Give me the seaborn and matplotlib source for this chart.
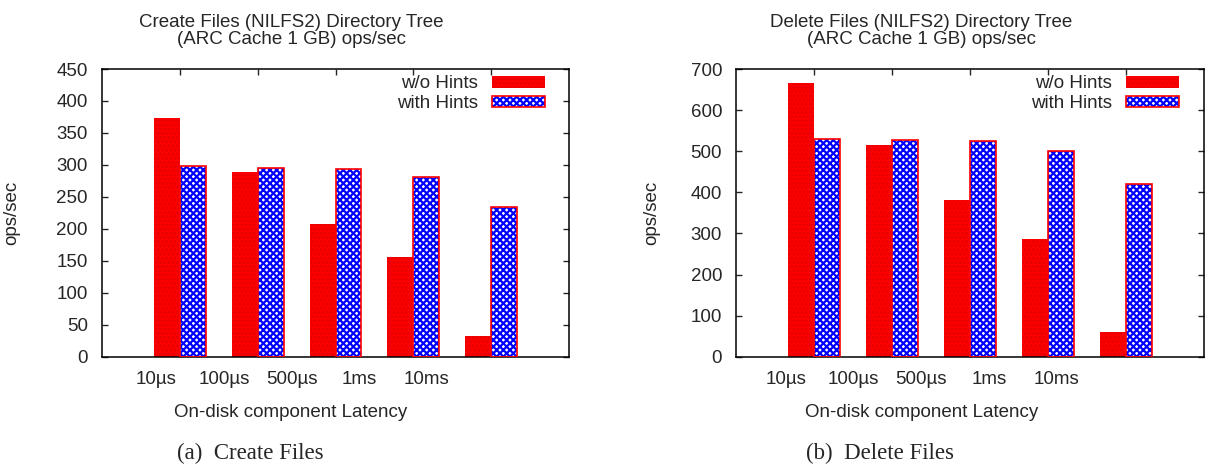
import matplotlib
matplotlib.use("Agg")
import matplotlib.pyplot as plt
from matplotlib.patches import Patch, Rectangle
from matplotlib.legend_handler import HandlerTuple
import numpy as np
import pandas as pd
import seaborn as sns

# ---- data -------------------------------------------------------------
latency = ["10µs", "100µs", "500µs", "1ms", "10ms"]
series = ["w/o Hints", "with Hints"]

create_without = [373, 289, 208, 156, 32]
create_with = [298, 295, 293, 281, 234]

delete_without = [666, 516, 381, 286, 60]
delete_with = [529, 527, 524, 500, 421]

panels = [
    dict(title="Create Files (NILFS2) Directory Tree\n(ARC Cache 1 GB) ops/sec",
         caption="(a)  Create Files", without=create_without, with_=create_with,
         ymax=450, ystep=50),
    dict(title="Delete Files (NILFS2) Directory Tree\n(ARC Cache 1 GB) ops/sec",
         caption="(b)  Delete Files", without=delete_without, with_=delete_with,
         ymax=700, ystep=100),
]

# ---- style ------------------------------------------------------------
sns.set_style("ticks")
plt.rcParams["font.family"] = ["Liberation Sans", "DejaVu Sans"]
plt.rcParams["hatch.linewidth"] = 1.6
FS = 13.5
RED = "#ff0000"
BLUE = "#0000ff"
CHECK = "xxxxx"

fig = plt.figure(figsize=(12.06, 4.69), dpi=100)
W, H = 1206, 469
ax_w, ax_h = 467.6, 287.7
ax_lefts = [101.7, 736.0]
ax_bottom = H - 356.7

# layout of the (slightly condensed) text elements, in axes fractions / data units
label_start = [-0.30, -0.36]
label_step = 0.868
title_x = [0.405, 0.396]
ylabel_x = [-0.175, -0.1625]
caption_x = [250 / W, 880 / W]

for k, p in enumerate(panels):
    ax = fig.add_axes([ax_lefts[k] / W, ax_bottom / H, ax_w / W, ax_h / H])
    df = pd.DataFrame({
        "latency": latency * 2,
        "series": [series[0]] * len(latency) + [series[1]] * len(latency),
        "ops": list(p["without"]) + list(p["with_"]),
    })
    sns.barplot(data=df, x="latency", y="ops", hue="series", order=latency,
                hue_order=series, palette={series[0]: RED, series[1]: "white"},
                width=0.667, gap=0, saturation=1, legend=False, ax=ax,
                edgecolor="none", linewidth=0, errorbar=None)

    # textures: fine dots on the red bars, blue checks with a red outline on the others
    for bar in ax.containers[0]:
        bar.set_hatch("....")
        bar.set_edgecolor("#e40000")
        bar.set_linewidth(0)
    for bar in ax.containers[1]:
        bar.set_hatch(CHECK)
        bar.set_edgecolor(BLUE)
        bar.set_linewidth(0)
        ax.add_patch(Rectangle(bar.get_xy(), bar.get_width(), bar.get_height(),
                               fill=False, edgecolor=RED, linewidth=1.2, zorder=3))

    ax.set_xlim(-1, 5)
    ax.set_ylim(0, p["ymax"])
    ax.set_yticks(np.arange(0, p["ymax"] + 1, p["ystep"]))

    # tick marks on the categories, labels set slightly condensed
    ax.set_xticks(range(len(latency)), labels=[""] * len(latency))
    ax.set_xticks([label_start[k] + label_step * i for i in range(len(latency))],
                  labels=latency, minor=True)
    ax.tick_params(axis="x", which="major", direction="in", length=4,
                   top=True, bottom=True, labelbottom=False, width=1)
    ax.tick_params(axis="x", which="minor", length=0, pad=10, labelsize=FS)
    ax.tick_params(axis="y", direction="in", length=4, left=True, right=True,
                   labelsize=FS, pad=10, width=1)

    for s in ax.spines.values():
        s.set_visible(True)
        s.set_linewidth(1.1)
        s.set_color("black")

    ax.set_xlabel("On-disk component Latency", fontsize=FS)
    ax.xaxis.set_label_coords(title_x[k], -0.165)
    ax.set_ylabel("ops/sec", fontsize=FS)
    ax.yaxis.set_label_coords(ylabel_x[k], 0.5)

    ax.text(title_x[k], 1.072, p["title"], transform=ax.transAxes, ha="center",
            va="bottom", fontsize=FS, linespacing=1.05)

    # gnuplot-like key: text first, sample box after
    h_red = Patch(facecolor=RED, edgecolor="#e40000", hatch="....", linewidth=0)
    h_blue = (Patch(facecolor="white", edgecolor=BLUE, hatch=CHECK, linewidth=0),
              Patch(fill=False, edgecolor=RED, linewidth=1.2))
    ax.legend([h_red, h_blue], series, loc="upper right",
              bbox_to_anchor=(0.948, 0.978), frameon=False, markerfirst=False,
              fontsize=FS, handlelength=2.83, handleheight=0.59,
              handletextpad=0.75, labelspacing=0.15, borderpad=0,
              borderaxespad=0,
              handler_map={tuple: HandlerTuple(ndivide=1, pad=0)})

    fig.text(caption_x[k], 1 - 453 / H, p["caption"], ha="center", va="center",
             fontsize=16.5, family=["Liberation Serif", "DejaVu Serif"])

fig.savefig("out.png", dpi=100)
